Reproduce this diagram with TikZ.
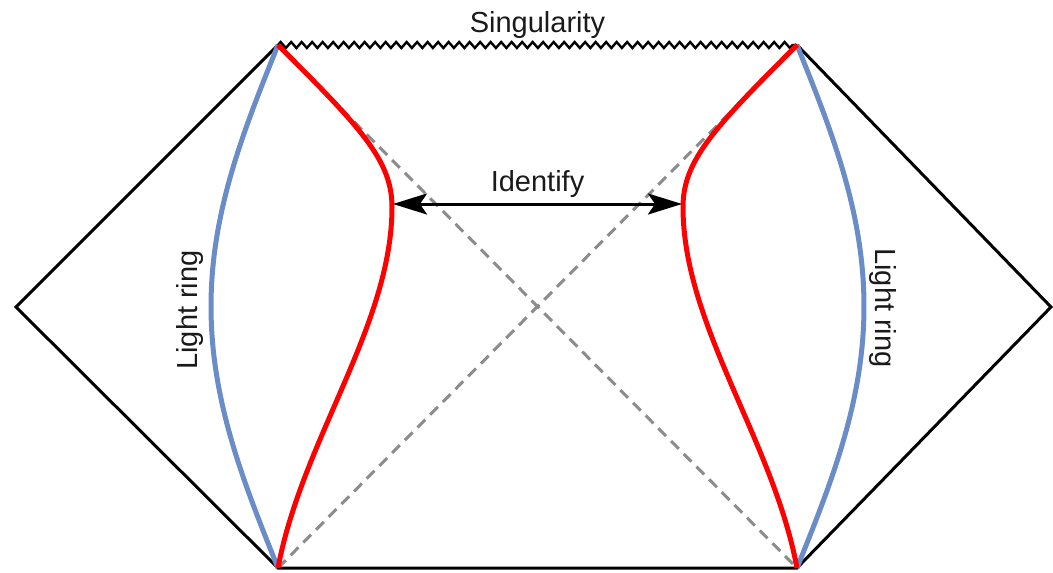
\documentclass[tikz,border=0pt]{standalone}
\usepackage{fontspec}
\setmainfont{Liberation Sans}
\usetikzlibrary{arrows.meta,decorations.pathmorphing}
\definecolor{ringblue}{HTML}{6A8CC7}
\definecolor{dashgray}{HTML}{8C8C8C}
\definecolor{txt}{HTML}{1A1A1A}
\tikzset{
  outline/.style={draw=black, line width=3pt, line join=miter},
  sing/.style={draw=black, line width=2.4pt, decorate, decoration={zigzag, segment length=10.5pt, amplitude=3pt}},
  horizon/.style={draw=dashgray, line width=3pt, dash pattern=on 11pt off 7pt},
  ring/.style={draw=ringblue, line width=5pt},
  wall/.style={draw=red, line width=5pt},
  ident/.style={draw=black, line width=3pt, {Stealth[length=34pt,width=21pt,inset=7pt]}-{Stealth[length=34pt,width=21pt,inset=7pt]}},
  lbl/.style={text=txt, inner sep=0pt, font=\fontsize{29}{34}\selectfont}
}
\begin{document}
\begin{tikzpicture}[x=1pt, y=-1pt]
\useasboundingbox (0,0) rectangle (1053,573);
\coordinate (TL) at (278,45);
\coordinate (TR) at (797,45);
\coordinate (BL) at (278,568);
\coordinate (BR) at (797,568);
\coordinate (L) at (16,307);
\coordinate (R) at (1051,307);
\coordinate (A1) at (393,204);
\coordinate (A2) at (682,204);
% horizons
\draw[horizon] (TL) -- (BR);
\draw[horizon] (BL) -- (TR);
% outline
\draw[outline] (TL) -- (L) -- (BL) -- (BR) -- (R) -- (TR);
\draw[sing] (TL) -- (TR);
% light rings
\draw[ring] plot[domain=-1:1, samples=80] ({278-67*cos(90*\x)}, {306.5+261.5*\x});
\draw[ring] plot[domain=-1:1, samples=80] ({797+67*cos(90*\x)}, {306.5+261.5*\x});
% walls
\draw[wall] (TL) .. controls (360,127) and (392,160) .. (392,207)
                 .. controls (392,325) and (302,440) .. (BL);
\draw[wall] (TR) .. controls (715,127) and (683,160) .. (683,207)
                 .. controls (683,325) and (773,440) .. (BR);
% identify arrow
\draw[ident] (A1) -- (A2);
\node[lbl] (ident) at (537.5,184) {Identify};
\node[lbl] (singlbl) at (537.5,25) {Singularity};
\node[lbl, rotate=90] (ringL) at (190,310) {Light ring};
\node[lbl, rotate=-90] (ringR) at (883,308) {Light ring};
\end{tikzpicture}
\end{document}
